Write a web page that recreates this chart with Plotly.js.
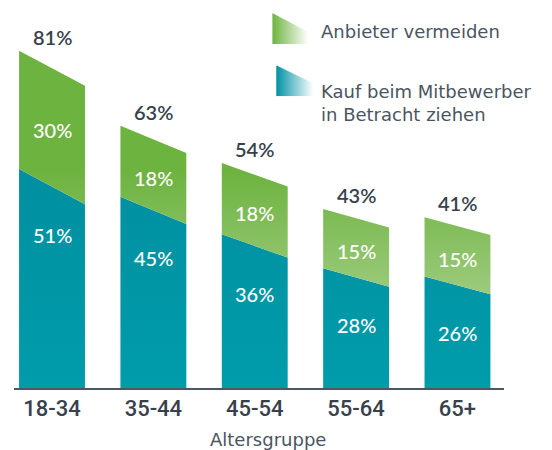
<!DOCTYPE html>
<html><head><meta charset="utf-8">
<script src="https://cdn.plot.ly/plotly-3.0.1.min.js"></script>
<style>html,body{margin:0;padding:0;background:#fff}#chart{width:552px;height:450px}</style>
</head><body><div id="chart"></div>
<script>
// ---- data ----
const categories = ['18-34', '35-44', '45-54', '55-64', '65+'];
const considerCompetitor = [51, 45, 36, 28, 26];   // Kauf beim Mitbewerber in Betracht ziehen
const avoidProvider = [30, 18, 18, 15, 15];        // Anbieter vermeiden
const totals = [81, 63, 54, 43, 41];
const seriesNames = ['Anbieter vermeiden', 'Kauf beim Mitbewerber<br>in Betracht ziehen'];
const axisTitle = 'Altersgruppe';

// ---- style ----
const BAR_W = 0.65;      // bar width in category units
const SLANT = 0.11;      // slope of the bar tops (fraction of the total)
const DARK = '#37414b';
const GREY = '#4a5561';
const LABEL_FONT = 'Lato, sans-serif';

const tealX = [], tealY = [], greenX = [], greenY = [];
const annotations = [];
categories.forEach((c, i) => {
  const d = SLANT * totals[i];
  const x0 = i - BAR_W / 2, x1 = i + BAR_W / 2;
  const t = considerCompetitor[i], top = t + avoidProvider[i];
  tealX.push(x0, x0, x1, x1, null);
  tealY.push(0, t + d / 2, t - d / 2, 0, null);
  greenX.push(x0, x0, x1, x1, null);
  greenY.push(t + d / 2, top + d / 2, top - d / 2, t - d / 2, null);
  annotations.push({x: i, y: totals[i] + d / 2, text: totals[i] + '%', showarrow: false,
    yshift: 14, yanchor: 'middle',
    font: {family: LABEL_FONT, size: 20, color: DARK, weight: 600}});
  annotations.push({x: i, y: t + avoidProvider[i] / 2, text: avoidProvider[i] + '%', showarrow: false,
    yshift: -3, yanchor: 'middle',
    font: {family: LABEL_FONT, size: 20, color: '#ffffff', weight: 500}});
  annotations.push({x: i, y: t, text: t + '%', showarrow: false,
    yshift: -48, yanchor: 'middle',
    font: {family: LABEL_FONT, size: 20, color: '#ffffff', weight: 500}});
});

// legend texts (paper coords)
annotations.push({xref: 'paper', yref: 'paper', x: 0.622, y: 0.952, xanchor: 'left', yanchor: 'middle',
  align: 'left', showarrow: false, text: seriesNames[0],
  font: {family: 'DejaVu Sans, sans-serif', size: 18, color: GREY}});
annotations.push({xref: 'paper', yref: 'paper', x: 0.622, y: 0.761, xanchor: 'left', yanchor: 'middle',
  align: 'left', showarrow: false, text: seriesNames[1],
  font: {family: 'DejaVu Sans, sans-serif', size: 18, color: GREY}});
// axis title
annotations.push({xref: 'paper', yref: 'paper', x: 0.519, y: -0.136, xanchor: 'center', yanchor: 'middle',
  showarrow: false, text: axisTitle,
  font: {family: 'DejaVu Sans, sans-serif', size: 18, color: GREY}});

function iconSvg(c1, c2, drop) {
  const svg = '<svg xmlns="http://www.w3.org/2000/svg" width="36" height="31" viewBox="0 0 36 31" preserveAspectRatio="none">' +
    '<defs><linearGradient id="g" x1="0" y1="0" x2="1" y2="0">' +
    '<stop offset="0" stop-color="' + c1 + '"/><stop offset="1" stop-color="' + c2 + '"/></linearGradient></defs>' +
    '<polygon points="0,0 36,' + drop + ' 36,31 0,31" fill="url(#g)"/></svg>';
  return 'data:image/svg+xml;charset=utf-8,' + encodeURIComponent(svg);
}

const traces = [
  {type: 'scatter', mode: 'none', x: tealX, y: tealY, fill: 'toself', name: seriesNames[1],
   hoverinfo: 'skip', showlegend: false, fillcolor: '#0096a6',
   fillgradient: {type: 'vertical', start: 0, stop: 60, colorscale: [[0, '#009cab'], [1, '#008e9f']]}},
  {type: 'scatter', mode: 'none', x: greenX, y: greenY, fill: 'toself', name: seriesNames[0],
   hoverinfo: 'skip', showlegend: false, fillcolor: '#7dbb50',
   fillgradient: {type: 'vertical', start: 15, stop: 55, colorscale: [[0, '#a9d18e'], [1, '#6db33f']]}}
];

const layout = {
  width: 552, height: 450,
  margin: {l: 14, r: 48, t: 13, b: 62},
  paper_bgcolor: '#ffffff', plot_bgcolor: '#ffffff',
  showlegend: false,
  xaxis: {range: [-0.375, 4.459], tickmode: 'array', tickvals: categories.map((c, i) => i), ticktext: categories,
    showgrid: false, zeroline: false, showline: true, linecolor: '#4b5762', linewidth: 2, ticks: '',
    tickfont: {family: 'Roboto, "DejaVu Sans Condensed", sans-serif', size: 22, color: DARK, weight: 500},
    fixedrange: true},
  yaxis: {range: [0, 95], visible: false, fixedrange: true},
  annotations: annotations,
  images: [
    {source: iconSvg('#6db33f', '#ffffff', 19), xref: 'paper', yref: 'paper', x: 0.527, y: 1.0,
     sizex: 0.0735, sizey: 0.0827, sizing: 'stretch', xanchor: 'left', yanchor: 'top', layer: 'above'},
    {source: iconSvg('#0090a3', '#ffffff', 18), xref: 'paper', yref: 'paper', x: 0.535, y: 0.861,
     sizex: 0.0755, sizey: 0.0827, sizing: 'stretch', xanchor: 'left', yanchor: 'top', layer: 'above'}
  ]
};

Plotly.newPlot('chart', traces, layout, {displayModeBar: false, staticPlot: true});
</script></body></html>
